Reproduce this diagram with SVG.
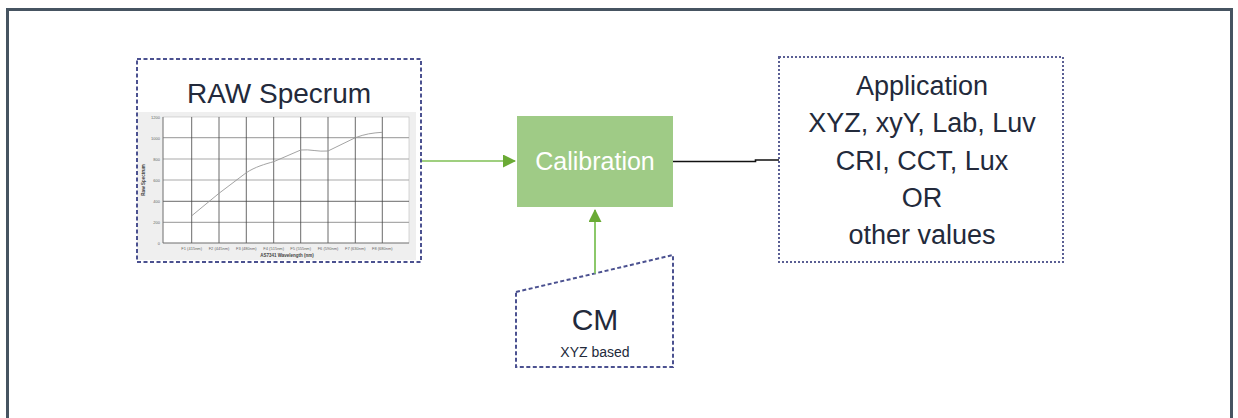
<svg xmlns="http://www.w3.org/2000/svg" width="1238" height="418" viewBox="0 0 1238 418">
<defs>
<style>
.dash1{fill:none;stroke:#4b5190;stroke-width:2;stroke-dasharray:4 2.5}
.dash2{fill:none;stroke:#5a5f94;stroke-width:2;stroke-dasharray:2 2}
.t{font-family:"Liberation Sans",Arial,sans-serif;fill:#232a3b;text-anchor:middle}
.ax{font-family:"Liberation Sans",Arial,sans-serif;fill:#666;font-size:4px}
.g{stroke:#aaa;stroke-width:1.2}
.gv{stroke:#444;stroke-width:0.8}
</style>
<marker id="ag" markerWidth="13" markerHeight="13" refX="12" refY="6.5" orient="auto" markerUnits="userSpaceOnUse">
<path d="M0,0 L13,6.5 L0,13 Z" fill="#6aaa35"/>
</marker>
</defs>
<rect width="1238" height="418" fill="#fff"/>
<path d="M7.5,420 V9.5 H1231.5 V420" fill="none" stroke="#465461" stroke-width="3"/>

<g id="raw">
<rect x="137" y="112" width="279" height="148" fill="#efefef"/>
<rect x="163" y="117" width="246" height="126" fill="#fff" stroke="#bbb" stroke-width="0.6"/>
<g>
<line class="g" x1="163" y1="137.7" x2="409" y2="137.7"/>
<line class="g" x1="163" y1="159" x2="409" y2="159"/>
<line class="g" x1="163" y1="180" x2="409" y2="180"/>
<line class="gv" x1="163" y1="201.3" x2="409" y2="201.3"/>
<line class="g" x1="163" y1="222.3" x2="409" y2="222.3"/>
<line class="gv" x1="191.7" y1="117" x2="191.7" y2="243"/>
<line class="gv" x1="219" y1="117" x2="219" y2="243"/>
<line class="gv" x1="246.3" y1="117" x2="246.3" y2="243"/>
<line class="gv" x1="273.7" y1="117" x2="273.7" y2="243"/>
<line class="gv" x1="300.7" y1="117" x2="300.7" y2="243"/>
<line class="gv" x1="328" y1="117" x2="328" y2="243"/>
<line class="gv" x1="355.3" y1="117" x2="355.3" y2="243"/>
<line class="gv" x1="382.3" y1="117" x2="382.3" y2="243"/>
<line x1="163" y1="117" x2="163" y2="243" stroke="#666" stroke-width="0.8"/>
<line x1="163" y1="243" x2="409" y2="243" stroke="#666" stroke-width="0.8"/>
</g>
<path d="M191.7,215.8 L219,193.3 L246.3,172.7 C255,167 265,164 273.7,161.7 L300.7,150 C310,149 318,152 328,151 L355.3,137.7 C365,134 372,133 382.3,132.3" fill="none" stroke="#999" stroke-width="0.9"/>
<g class="ax" text-anchor="end">
<text x="160" y="118.5">1200</text>
<text x="160" y="139.5">1000</text>
<text x="160" y="160.5">800</text>
<text x="160" y="181.5">600</text>
<text x="160" y="203">400</text>
<text x="160" y="224">200</text>
<text x="160" y="245">0</text>
</g>
<g class="ax" text-anchor="middle">
<text x="191.7" y="249.5">F1 (415nm)</text>
<text x="219" y="249.5">F2 (445nm)</text>
<text x="246.3" y="249.5">F3 (480nm)</text>
<text x="273.7" y="249.5">F4 (515nm)</text>
<text x="300.7" y="249.5">F5 (555nm)</text>
<text x="328" y="249.5">F6 (590nm)</text>
<text x="355.3" y="249.5">F7 (630nm)</text>
<text x="382.3" y="249.5">F8 (680nm)</text>
</g>
<text x="287" y="257" font-family="Liberation Sans, Arial, sans-serif" font-size="4.5" font-weight="bold" fill="#444" text-anchor="middle">AS7341 Wavelength (nm)</text>
<text transform="translate(145,180) rotate(-90)" font-family="Liberation Sans, Arial, sans-serif" font-size="4.5" font-weight="bold" fill="#444" text-anchor="middle">Raw Spectrum</text>
<rect class="dash1" x="137" y="59" width="284" height="203"/>
<text class="t" x="279" y="102.5" font-size="28">RAW Specrum</text>
</g>

<g id="calibration">
<rect x="517" y="116" width="156" height="91" fill="#9fcb86"/>
<text class="t" x="595" y="170" font-size="25" style="fill:#fff">Calibration</text>
</g>

<g id="cm">
<polygon class="dash1" points="516,292 673,255 673,367 516,367"/>
<text class="t" x="595" y="330" font-size="30">CM</text>
<text class="t" x="595" y="357" font-size="14">XYZ based</text>
</g>

<g id="application">
<rect class="dash2" x="779" y="57" width="284" height="205"/>
<g class="t" font-size="27">
<text x="922" y="95">Application</text>
<text x="922" y="132">XYZ, xyY, Lab, Luv</text>
<text x="922" y="169.5">CRI, CCT, Lux</text>
<text x="922" y="207">OR</text>
<text x="922" y="244">other values</text>
</g>
</g>

<g id="connectors">
<line x1="422" y1="161" x2="515" y2="161" stroke="#7fbf55" stroke-width="1.3" marker-end="url(#ag)"/>
<line x1="595" y1="273.5" x2="595" y2="210" stroke="#8cc86a" stroke-width="2" marker-end="url(#ag)"/>
<path d="M673,161.5 H755.5 V160 H779" fill="none" stroke="#111" stroke-width="1.6"/>
</g>
</svg>
